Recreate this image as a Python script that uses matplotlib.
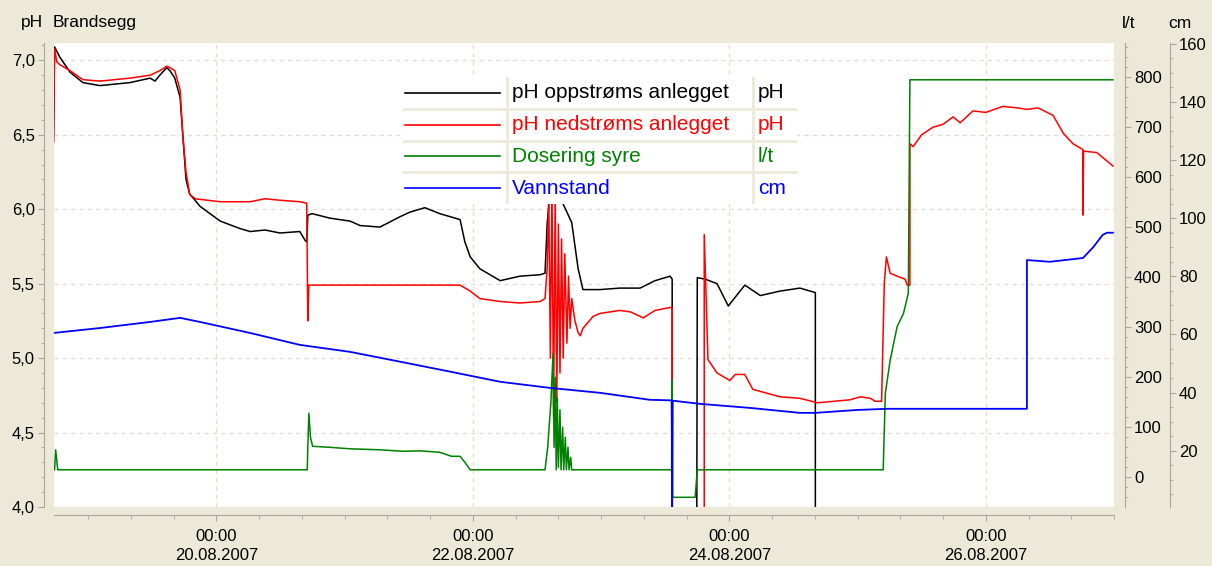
import numpy as np
import pandas as pd
import matplotlib
matplotlib.use("Agg")
import matplotlib.pyplot as plt
import matplotlib.dates as mdates
from matplotlib.ticker import MultipleLocator, FuncFormatter
from matplotlib.patches import Rectangle

plt.rcParams['font.family'] = ['Liberation Sans', 'DejaVu Sans']

START = pd.Timestamp("2007-08-20 00:00")

# all times are hours after 20.08.2007 00:00
t_opp = [-30.5, -30.3, -29.3, -27.4, -25.0, -21.8, -19.0, -16.2, -12.4, -11.5, -10.6, -9.3,
         -8.7, -7.8, -6.8, -6.3, -5.7, -5.0, -4.0, -3.1, 0.7, 4.4, 6.3, 9.1, 11.9, 15.6,
         16.6, 16.9, 17.1, 17.9, 21.2, 25.0, 26.9, 30.6, 34.4, 36.2, 39.0, 41.8, 45.6, 46.5,
         47.5, 49.3, 51.2, 53.1, 56.8, 60.6, 61.5, 61.9, 62.4, 63.4, 65.6, 66.5, 67.7, 68.6,
         71.8, 75.5, 79.3, 82.1, 84.9, 85.3, 85.3, 89.9, 90.0, 91.5, 93.7, 95.8, 98.9, 101.8,
         105.5, 109.2, 112.1, 112.1]
ph_opp = [6.45, 7.09, 7.02, 6.92, 6.85, 6.83, 6.84, 6.85, 6.88, 6.86, 6.90, 6.95,
          6.93, 6.88, 6.75, 6.50, 6.20, 6.10, 6.06, 6.02, 5.92, 5.87, 5.85, 5.86, 5.84, 5.85,
          5.79, 5.78, 5.96, 5.97, 5.94, 5.92, 5.89, 5.88, 5.95, 5.98, 6.01, 5.97, 5.93, 5.78,
          5.68, 5.60, 5.56, 5.52, 5.55, 5.56, 5.57, 5.90, 6.10, 6.15, 5.98, 5.91, 5.60, 5.46,
          5.46, 5.47, 5.47, 5.52, 5.55, 5.53, 3.80, 3.80, 5.54, 5.53, 5.50, 5.35, 5.49, 5.42,
          5.45, 5.47, 5.44, 3.80]

t_ned = [-30.5, -30.3, -29.9, -29.3, -27.4, -25.0, -21.8, -19.0, -16.2, -12.4, -10.6, -9.3,
         -8.7, -7.8, -6.8, -6.3, -5.7, -5.0, -4.0, 0.7, 6.3, 9.1, 11.9, 15.6, 16.9, 17.1,
         17.3, 21.2, 30.6, 40.0, 45.6, 47.5, 49.3, 53.1, 56.8, 60.6, 61.5, 61.9, 62.2, 62.5,
         62.8, 63.1, 63.4, 63.7, 64.0, 64.3, 64.6, 64.9, 65.2, 65.6, 65.9, 66.2, 66.5, 67.1,
         67.7, 68.1, 68.6, 70.5, 71.8, 75.5, 77.5, 79.9, 82.1, 84.9, 85.3, 85.3, 91.3, 91.3,
         92.0, 93.7, 96.1, 97.1, 98.9, 100.4, 105.5, 109.2, 112.5, 118.6, 120.5, 122.4, 123.3,
         124.5, 125.0, 125.4, 126.1, 127.4, 128.9, 129.3, 129.8, 129.8, 130.4, 132.0, 134.1,
         136.0, 137.9, 139.2, 141.6, 144.0, 147.2, 150.0, 151.7, 153.8, 156.6, 158.5, 160.3,
         162.2, 162.2, 162.3, 164.8, 167.8]
ph_ned = [6.45, 7.08, 6.99, 6.97, 6.93, 6.87, 6.86, 6.87, 6.88, 6.90, 6.93, 6.96,
          6.95, 6.93, 6.80, 6.50, 6.25, 6.10, 6.07, 6.05, 6.05, 6.07, 6.06, 6.05, 6.04, 5.25,
          5.49, 5.49, 5.49, 5.49, 5.49, 5.45, 5.40, 5.38, 5.37, 5.38, 5.40, 5.60, 6.10, 5.00,
          6.15, 4.60, 6.10, 4.70, 5.90, 4.90, 5.80, 5.00, 5.70, 5.10, 5.55, 5.20, 5.40, 5.25,
          5.17, 5.15, 5.20, 5.28, 5.30, 5.32, 5.31, 5.27, 5.32, 5.34, 5.34, 3.80, 3.80, 5.83,
          4.99, 4.90, 4.85, 4.89, 4.89, 4.79, 4.74, 4.73, 4.70, 4.72, 4.74, 4.73, 4.71,
          4.71, 5.50, 5.68, 5.57, 5.55, 5.53, 5.49, 5.49, 6.44, 6.42, 6.50, 6.55,
          6.57, 6.62, 6.58, 6.66, 6.65, 6.69, 6.68, 6.67, 6.68, 6.63, 6.51, 6.44,
          6.40, 5.96, 6.39, 6.38, 6.29]

t_syre = [-30.5, -30.3, -30.1, -29.9, -29.7, 17.0, 17.1, 17.3, 17.6, 18.0, 21.2, 25.0,
          30.6, 35.0, 38.0, 41.8, 44.0, 45.6, 46.5, 47.5, 61.5, 62.0, 62.6, 63.0, 63.2, 63.4,
          63.6, 63.8, 64.0, 64.3, 64.5, 64.8, 65.0, 65.3, 65.5, 65.8, 66.0, 66.3, 66.5, 85.2,
          85.3, 85.4, 89.6, 90.0, 124.8, 125.2, 126.1, 127.4, 128.6, 129.5, 129.8, 167.8]
lt_syre = [15, 15, 55, 35, 15, 15, 60, 128, 80, 62, 60, 57,
           55, 52, 53, 50, 42, 42, 30, 15, 15, 60, 150, 248, 60, 200,
           15, 160, 20, 135, 15, 100, 15, 80, 15, 60, 15, 40, 15, 15,
           194, -40, -40, 15, 15, 168, 234, 301, 328, 368, 795, 795]

t_vann = [-30.5, -21.8, -12.4, -6.8, -3.1, 6.3, 15.6, 25.0, 34.4, 43.7, 53.1, 62.4, 71.8,
          81.1, 85.2, 85.3, 85.4, 90.5, 99.9, 109.2, 112.1, 119.9, 125.6, 151.7, 151.7,
          156.0, 162.2, 164.1, 165.9, 166.7, 167.8]
cm_vann = [60.5, 62.2, 64.3, 65.7, 64.3, 60.5, 56.4, 54.0, 50.6, 47.2, 43.7, 41.6, 39.9,
           37.5, 37.3, 0.0, 37.2, 36.1, 34.7, 33.0, 33.0, 34.0, 34.4, 34.4, 85.6,
           85.0, 86.3, 90.0, 94.3, 95.0, 95.0]

names = ["pH oppstrøms anlegget", "pH nedstrøms anlegget", "Dosering syre", "Vannstand"]
units = ["pH", "pH", "l/t", "cm"]
colors = ["#000000", "#FF0000", "#008000", "#0000FF"]

BG = "#ECE9D8"
GRID = "#E3DFCC"
AXC = "#A9A79C"


def to_time(hours):
    return START + pd.to_timedelta(hours, unit="h")


W, H = 1212, 566
fig = plt.figure(figsize=(W / 100, H / 100), dpi=100, facecolor=BG)
ax = fig.add_axes([53.5 / W, (H - 507) / H, (1114 - 53.5) / W, (507 - 43) / H])
ax.set_facecolor("white")

ax.plot(to_time(t_opp), ph_opp, color=colors[0], lw=1.1)
ax.plot(to_time(t_ned), ph_ned, color=colors[1], lw=1.1)
ax.set_ylim(4.0, 7.116)
ax.set_xlim(to_time(-30.5), to_time(168))

ax_lt = ax.twinx()
ax_lt.plot(to_time(t_syre), lt_syre, color=colors[2], lw=1.1)
ax_lt.set_ylim(-59.4, 868.6)

ax_cm = ax.twinx()
ax_cm.plot(to_time(t_vann), cm_vann, color=colors[3], lw=1.3)
ax_cm.set_ylim(0.6, 160.3)

# grid
ax.yaxis.set_major_locator(MultipleLocator(0.5))
ax.yaxis.set_minor_locator(MultipleLocator(0.1))
ax.yaxis.set_major_formatter(FuncFormatter(lambda v, p: f"{v:.1f}".replace(".", ",")))
ax.xaxis.set_major_locator(mdates.DayLocator(bymonthday=[20, 22, 24, 26]))
ax.xaxis.set_minor_locator(mdates.HourLocator(byhour=[0, 8, 16]))
ax.xaxis.set_major_formatter(mdates.DateFormatter("%H:%M\n%d.%m.%Y"))
ax.grid(True, which="major", color=GRID, lw=1, ls=(0, (3, 3)))

for s in ["top", "right"]:
    ax.spines[s].set_visible(False)
ax.spines["left"].set_position(("outward", 6.5))
ax.spines["bottom"].set_position(("outward", 5.8))
for s in ["left", "bottom"]:
    ax.spines[s].set_color(AXC)
ax.tick_params(axis="both", which="both", colors=AXC, labelcolor="black", labelsize=12)
ax.tick_params(axis="y", which="major", length=4, pad=3)
ax.tick_params(axis="y", which="minor", length=2)
ax.tick_params(axis="x", which="major", length=4, pad=6)
ax.tick_params(axis="x", which="minor", length=3)
for lab in ax.get_xticklabels():
    lab.set_linespacing(1.3)

for a, off, maj, mnr in [(ax_lt, 7.9, 100, 20), (ax_cm, 40.3, 20, 5)]:
    for s in ["top", "left", "bottom"]:
        a.spines[s].set_visible(False)
    a.spines["right"].set_position(("outward", off))
    a.spines["right"].set_color(AXC)
    a.yaxis.set_major_locator(MultipleLocator(maj))
    a.yaxis.set_minor_locator(MultipleLocator(mnr))
    a.tick_params(axis="y", which="both", colors=AXC, labelcolor="black", labelsize=12)
    a.tick_params(axis="y", which="major", length=4, pad=2.5)
    a.tick_params(axis="y", which="minor", length=2)

# titles
fig.text(21 / W, 1 - 23 / H, "pH", fontsize=12.5, va="center", ha="left")
fig.text(53 / W, 1 - 23 / H, "Brandsegg", fontsize=12.5, va="center", ha="left")
fig.text(1122 / W, 1 - 23 / H, "l/t", fontsize=12.5, va="center", ha="left")
fig.text(1168 / W, 1 - 23 / H, "cm", fontsize=12.5, va="center", ha="left")

# legend drawn as a small table like the original
lg = fig.add_axes([403 / W, 1 - 204 / H, 394 / W, 127 / H], zorder=10)
lg.set_xlim(403, 797)
lg.set_ylim(204, 77)
lg.axis("off")
lg.add_patch(Rectangle((403, 77), 394, 127, facecolor="white", edgecolor="none"))
row_h = 127 / len(names)
for i, (nm, un, c) in enumerate(zip(names, units, colors)):
    yc = 77 + row_h * (i + 0.5)
    lg.plot([405, 500], [yc, yc], color=c, lw=1.2)
    lg.text(512, yc, nm, color=c, fontsize=15, va="center", ha="left")
    lg.text(758, yc, un, color=c, fontsize=15, va="center", ha="left")
    if i > 0:
        lg.plot([403, 797], [77 + row_h * i] * 2, color=BG, lw=2)
lg.plot([507, 507], [77, 204], color=BG, lw=2)
lg.plot([753, 753], [77, 204], color=BG, lw=2)

fig.savefig("out.png", dpi=100, facecolor=BG)
